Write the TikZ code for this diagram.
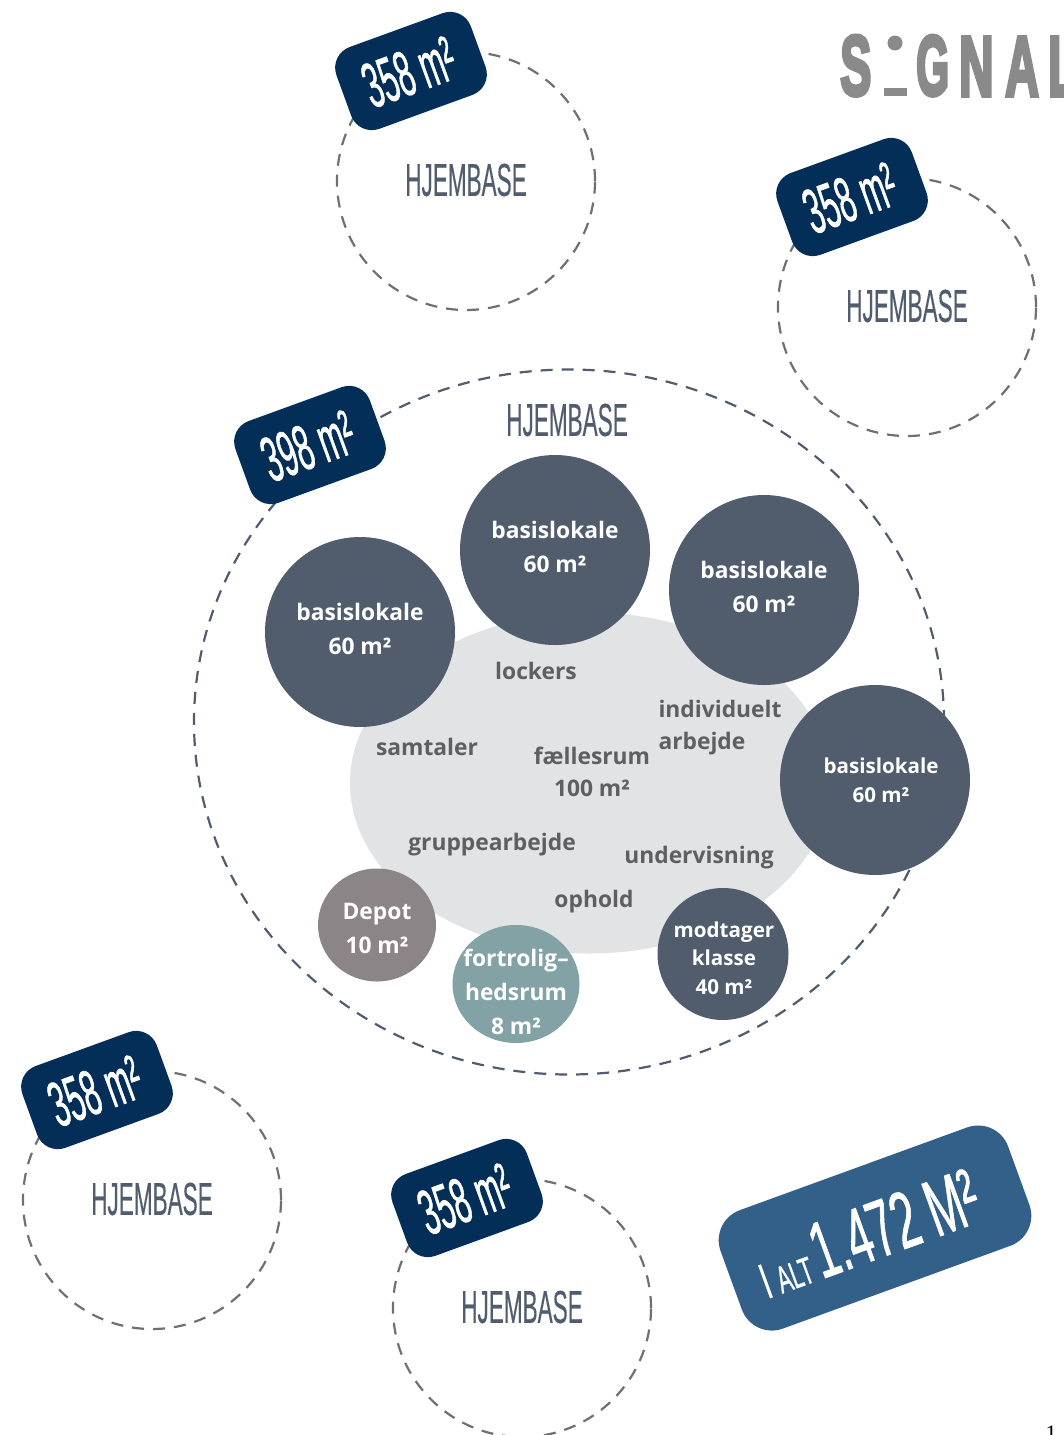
\documentclass[tikz,border=0pt]{standalone}
\usepackage{fontspec}
\usepackage{graphicx}
\usetikzlibrary{shapes.geometric}
\setmainfont{Open Sans}
\newfontfamily\condfont[FakeBold=0.5]{Liberation Sans}
\newfontfamily\tagfont[FakeBold=1.2]{Liberation Sans}
\newfontfamily\logofont[FakeBold=5]{Liberation Sans Bold}
\newfontfamily\pagefont{Liberation Serif}
\newcommand{\cond}[2][0.5]{\scalebox{#1}[1]{#2}}
\newcommand{\tilted}[2][0.47]{\rotatebox{20}{\scalebox{#1}[1]{#2}}}
\definecolor{slatec}{HTML}{515C6D}
\definecolor{navyc}{HTML}{022E57}
\definecolor{totalc}{HTML}{336089}
\definecolor{depotc}{HTML}{8B8587}
\definecolor{tealc}{HTML}{83A2A5}
\definecolor{blobc}{HTML}{E1E3E5}
\definecolor{labelc}{HTML}{5F5F61}
\definecolor{ringc}{HTML}{707070}
\definecolor{logoc}{HTML}{8A8A8A}
\tikzset{
  ring/.style={ellipse,draw=ringc,line width=2.2pt,dash pattern=on 12pt off 9pt,inner sep=0pt,minimum width=258pt,minimum height=258pt},
  bigring/.style={ellipse,draw=slatec,line width=2.2pt,dash pattern=on 12pt off 9pt,inner sep=0pt,minimum width=750pt,minimum height=705pt},
  tag/.style={rectangle,rounded corners=22pt,fill=navyc,rotate=20,minimum width=143pt,minimum height=87pt,inner sep=0pt},
  tag text/.style={text=white,inner sep=0pt,font=\tagfont\fontsize{64}{64}\selectfont},
  title/.style={text=slatec,inner sep=0pt,font=\condfont\fontsize{46}{46}\selectfont},
  room/.style={circle,fill=slatec,text=white,inner sep=0pt,minimum size=190pt},
  room text/.style={text=white,inner sep=0pt,align=center,font=\bfseries\fontsize{22.8}{34}\selectfont},
  activity/.style={text=labelc,inner sep=0pt,align=left,font=\bfseries\fontsize{22.8}{32}\selectfont},
  logo/.style={text=logoc,inner sep=0pt,anchor=south west,font=\logofont\fontsize{85}{85}\selectfont},
}
\begin{document}
\begin{tikzpicture}[x=1pt,y=-1pt]
\useasboundingbox (0,0) rectangle (1064,1435);
% logo
\node[logo] (ls) at (840,96) {\cond[.55]{S}};
\node[circle,fill=logoc,minimum size=15pt,inner sep=0pt] (ldot) at (895,43) {};
\node[rectangle,fill=logoc,minimum width=23pt,minimum height=8pt,inner sep=0pt] (lbar) at (895,92) {};
\node[logo] (lg) at (916,96) {\cond[.5]{G}};
\node[logo] (ln) at (959,96) {\cond[.56]{N}};
\node[logo] (la) at (1005,96) {\cond[.55]{A}};
\node[logo] (ll) at (1048,96) {\cond[.55]{L}};
% rings
\node[ring] (r1) at (466,181) {};
\node[ring] (r2) at (907,307) {};
\node[ring] (r3) at (152,1200) {};
\node[ring] (r4) at (522,1308) {};
\node[bigring] (r0) at (569,722) {};
% titles
\node[title] (t1) at (466,180) {\cond[.49]{HJEMBASE}};
\node[title] (t2) at (907,306) {\cond[.49]{HJEMBASE}};
\node[title] (t3) at (152,1199) {\cond[.49]{HJEMBASE}};
\node[title] (t4) at (522,1307) {\cond[.49]{HJEMBASE}};
\node[title] (t0) at (567,420) {\cond[.49]{HJEMBASE}};
% tags
\node[tag] (g1) at (411,71) {};
\node[tag] (g2) at (852,197) {};
\node[tag] (g0) at (310,445) {};
\node[tag] (g3) at (97,1090) {};
\node[tag] (g4) at (467,1198) {};
\node[tag text] (g1t) at (409,72) {\tilted{358 m²}};
\node[tag text] (g2t) at (850,198) {\tilted{358 m²}};
\node[tag text] (g0t) at (308,446) {\tilted{398 m²}};
\node[tag text] (g3t) at (95,1091) {\tilted{358 m²}};
\node[tag text] (g4t) at (465,1199) {\tilted{358 m²}};
% common room
\node[ellipse,fill=blobc,minimum width=480pt,minimum height=341pt,inner sep=0pt] (blob) at (590,783) {};
\node[activity] (a1) at (536,671) {lockers};
\node[activity] (a2) at (427,747) {samtaler};
\node[activity] (a3) at (720,728) {individuelt\\arbejde};
\node[activity,align=center] (a4) at (592,772) {fællesrum\\100 m²};
\node[activity] (a5) at (492,845) {gruppearbejde};
\node[activity] (a6) at (699,858) {undervisning};
\node[activity] (a7) at (594,902) {ophold};
% rooms
\node[room] (b1) at (555,550) {};
\node[room] (b2) at (764,590) {};
\node[room] (b3) at (360,632) {};
\node[room] (b4) at (875,780) {};
\node[ellipse,fill=depotc,minimum width=118pt,minimum height=113pt,inner sep=0pt] (d) at (377,925) {};
\node[ellipse,fill=tealc,minimum width=127pt,minimum height=118pt,inner sep=0pt] (f) at (516,984) {};
\node[ellipse,fill=slatec,minimum width=131pt,minimum height=132pt,inner sep=0pt] (m) at (723,954) {};
\node[room text] (b1t) at (555,547) {basislokale\\60 m²};
\node[room text] (b2t) at (764,587) {basislokale\\60 m²};
\node[room text] (b3t) at (360,629) {basislokale\\60 m²};
\node[room text,font=\bfseries\fontsize{20.6}{29}\selectfont] (b4t) at (881,780) {basislokale\\60 m²};
\node[room text] (dt) at (377,928) {Depot\\10 m²};
\node[room text] (ft) at (516,992) {fortrolig–\\hedsrum\\8 m²};
\node[room text,font=\bfseries\fontsize{20.6}{28.5}\selectfont] (mt) at (724,958) {modtager\\klasse\\40 m²};
% total
\node[rectangle,rounded corners=32pt,fill=totalc,rotate=20,minimum width=306pt,minimum height=126pt,inner sep=0pt] (tot) at (875,1228) {};
\node[text=white,inner sep=0pt,font=\tagfont] (tott) at (867,1233) {\tilted[.55]{\fontsize{50}{50}\selectfont I \fontsize{38}{38}\selectfont ALT \fontsize{80}{80}\selectfont 1.472 M²}};
\node[font=\pagefont\fontsize{22}{22}\selectfont,text=black,inner sep=0pt,anchor=north] (pg) at (1051,1426) {1};
\end{tikzpicture}
\end{document}
